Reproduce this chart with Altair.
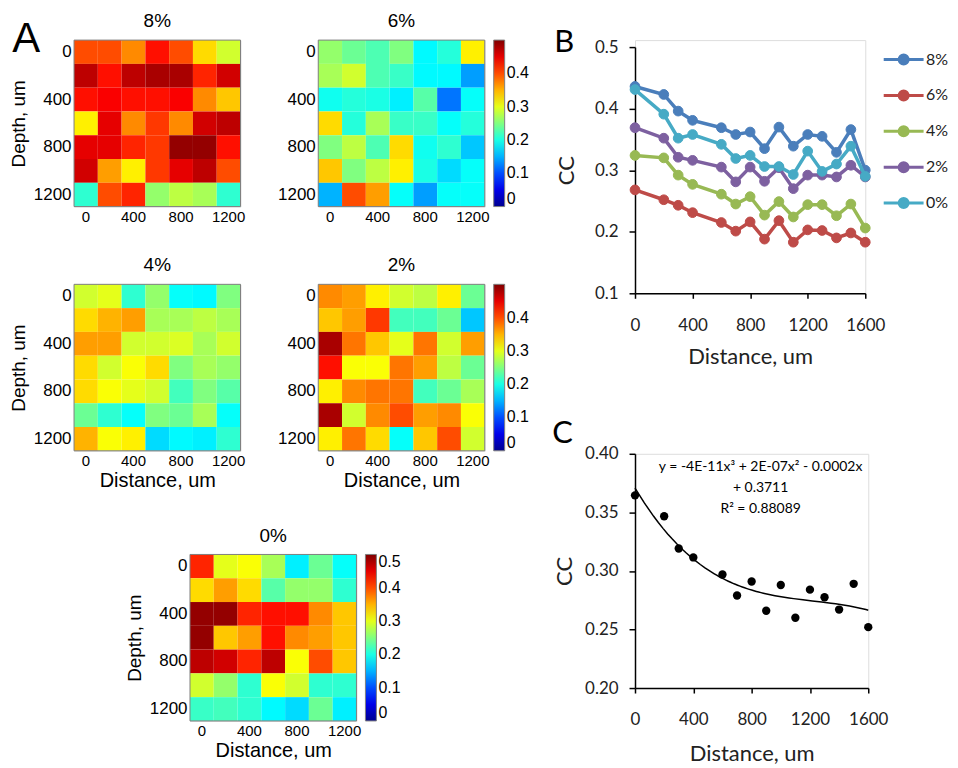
import altair as alt
import pandas as pd

# ---------------- data ----------------
dists = [0, 200, 400, 600, 800, 1000, 1200]
depths = [0, 200, 400, 600, 800, 1000, 1200]

hm_8 = [
    [0.40, 0.40, 0.37, 0.43, 0.40, 0.33, 0.29],
    [0.47, 0.43, 0.47, 0.48, 0.48, 0.42, 0.46],
    [0.43, 0.44, 0.43, 0.43, 0.44, 0.37, 0.34],
    [0.32, 0.45, 0.37, 0.41, 0.37, 0.46, 0.47],
    [0.45, 0.45, 0.42, 0.41, 0.49, 0.49, 0.43],
    [0.46, 0.36, 0.32, 0.41, 0.45, 0.47, 0.40],
    [0.21, 0.40, 0.42, 0.26, 0.28, 0.27, 0.21],
]
hm_6 = [
    [0.26, 0.24, 0.225, 0.25, 0.185, 0.205, 0.32],
    [0.27, 0.29, 0.225, 0.215, 0.185, 0.185, 0.14],
    [0.195, 0.205, 0.20, 0.18, 0.23, 0.12, 0.19],
    [0.33, 0.205, 0.27, 0.215, 0.215, 0.19, 0.205],
    [0.25, 0.28, 0.225, 0.33, 0.195, 0.21, 0.16],
    [0.34, 0.25, 0.28, 0.32, 0.20, 0.17, 0.19],
    [0.15, 0.40, 0.36, 0.19, 0.14, 0.19, 0.19],
]
hm_4 = [
    [0.29, 0.30, 0.21, 0.26, 0.19, 0.185, 0.25],
    [0.33, 0.35, 0.36, 0.27, 0.27, 0.28, 0.27],
    [0.36, 0.36, 0.29, 0.29, 0.295, 0.27, 0.29],
    [0.33, 0.29, 0.31, 0.33, 0.25, 0.27, 0.26],
    [0.33, 0.31, 0.30, 0.29, 0.22, 0.25, 0.23],
    [0.24, 0.21, 0.19, 0.25, 0.24, 0.27, 0.19],
    [0.35, 0.31, 0.32, 0.17, 0.185, 0.18, 0.21],
]
hm_2 = [
    [0.37, 0.36, 0.32, 0.29, 0.28, 0.32, 0.24],
    [0.34, 0.36, 0.41, 0.22, 0.22, 0.24, 0.16],
    [0.48, 0.38, 0.34, 0.30, 0.38, 0.29, 0.36],
    [0.43, 0.31, 0.31, 0.38, 0.36, 0.28, 0.24],
    [0.32, 0.37, 0.38, 0.38, 0.22, 0.24, 0.27],
    [0.48, 0.29, 0.37, 0.40, 0.36, 0.37, 0.31],
    [0.32, 0.38, 0.33, 0.19, 0.34, 0.40, 0.29],
]
hm_0 = [
    [0.42, 0.30, 0.31, 0.27, 0.18, 0.24, 0.19],
    [0.33, 0.36, 0.33, 0.23, 0.26, 0.26, 0.21],
    [0.49, 0.49, 0.42, 0.43, 0.43, 0.37, 0.34],
    [0.49, 0.34, 0.36, 0.43, 0.37, 0.36, 0.34],
    [0.47, 0.46, 0.42, 0.47, 0.31, 0.40, 0.34],
    [0.29, 0.26, 0.21, 0.31, 0.29, 0.21, 0.21],
    [0.215, 0.22, 0.21, 0.185, 0.17, 0.24, 0.18],
]

dist_b = [0, 200, 300, 400, 600, 700, 800, 900, 1000, 1100, 1200, 1300, 1400, 1500, 1600]
series_names = ["8%", "6%", "4%", "2%", "0%"]
cc_8 = [0.436, 0.423, 0.396, 0.381, 0.369, 0.358, 0.362, 0.335, 0.370, 0.339, 0.358, 0.355, 0.329, 0.366, 0.300]
cc_6 = [0.268, 0.252, 0.243, 0.231, 0.215, 0.201, 0.216, 0.188, 0.218, 0.183, 0.203, 0.202, 0.190, 0.198, 0.183]
cc_4 = [0.324, 0.320, 0.292, 0.277, 0.261, 0.245, 0.257, 0.227, 0.249, 0.224, 0.244, 0.244, 0.226, 0.245, 0.206]
cc_2 = [0.369, 0.352, 0.321, 0.316, 0.305, 0.281, 0.305, 0.282, 0.304, 0.270, 0.292, 0.292, 0.289, 0.308, 0.289]
cc_0 = [0.431, 0.391, 0.352, 0.358, 0.342, 0.319, 0.324, 0.306, 0.306, 0.293, 0.331, 0.298, 0.310, 0.339, 0.290]

dist_c = [0, 200, 300, 400, 600, 700, 800, 900, 1000, 1100, 1200, 1300, 1400, 1500, 1600]
cc_mean = [0.3645, 0.3467, 0.3191, 0.3115, 0.297, 0.279, 0.291, 0.266, 0.288, 0.260, 0.284, 0.2775, 0.267, 0.289, 0.252]

fit_lines = ["y = -4E-11x\u00b3 + 2E-07x\u00b2 - 0.0002x", "+ 0.3711", "R\u00b2 = 0.88089"]

# ---------------- styles ----------------
JET_DOMAIN = [0, 0.0625, 0.1875, 0.3125, 0.4375, 0.5]
JET_RANGE = ["#00008f", "#0000ff", "#00ffff", "#ffff00", "#ff0000", "#800000"]
HM_FONT = "Liberation Sans"
XL_FONT = "Lato"
HM = 167
line_colors = ["#4a7ebb", "#be4b48", "#98b954", "#7d60a0", "#46aac5"]
one = pd.DataFrame({"k": [0]})


def heatmap(vals, title, ytitle, xtitle, legend_vals, letter=False, pad_right=False):
    df = pd.DataFrame(
        [{"dist": d, "depth": z, "cc": vals[i][j]}
         for i, z in enumerate(depths) for j, d in enumerate(dists)]
    )
    if legend_vals is not None:
        legend = alt.Legend(
            title=None, orient="right", offset=9, padding=0, type="gradient",
            direction="vertical", gradientLength=HM, gradientThickness=11,
            values=legend_vals, format=".1~f", labelFont=HM_FONT, labelFontSize=16,
            labelOffset=2, labelColor="black", labelBaseline="middle",
            gradientStrokeColor="#808080", gradientStrokeWidth=1,
        )
    else:
        legend = None
    rect = alt.Chart(df).mark_rect().encode(
        x=alt.X("dist:O", scale=alt.Scale(paddingInner=0, paddingOuter=0),
                axis=alt.Axis(values=[0, 400, 800, 1200], labelAngle=0, ticks=False,
                              domain=False, labelPadding=3, labelFont=HM_FONT,
                              labelFontSize=15, labelColor="black",
                              title=xtitle, titleFont=HM_FONT, titleFontSize=20,
                              titleFontWeight="normal", titleColor="black",
                              titlePadding=2)),
        y=alt.Y("depth:O", scale=alt.Scale(paddingInner=0, paddingOuter=0),
                axis=alt.Axis(values=[0, 400, 800, 1200], ticks=False, domain=False,
                              labelPadding=3, labelFont=HM_FONT, labelFontSize=17,
                              labelColor="black",
                              title=ytitle, titleFont=HM_FONT, titleFontSize=19,
                              titleFontWeight="normal", titleColor="black",
                              titlePadding=5)),
        color=alt.Color("cc:Q", scale=alt.Scale(domain=JET_DOMAIN, range=JET_RANGE,
                                                interpolate="rgb"),
                        legend=legend),
    )
    frame = alt.Chart(one).mark_rect(fillOpacity=0, stroke="#808080", strokeWidth=1).encode(
        x=alt.value(0), x2=alt.value(HM), y=alt.value(0), y2=alt.value(HM)
    )
    head = alt.Chart(one).mark_text(text=title, font=HM_FONT, fontSize=19, align="center",
                                    baseline="alphabetic", color="black").encode(
        x=alt.value(HM / 2), y=alt.value(-13))
    layers = [rect, frame, head]
    if letter:
        layers.append(
            alt.Chart(one).mark_text(text="A", font=HM_FONT, fontSize=42, align="left",
                                     baseline="alphabetic", color="black").encode(
                x=alt.value(-62), y=alt.value(12))
        )
    if pad_right:
        layers.append(
            alt.Chart(one).mark_text(text="00000", font=HM_FONT, fontSize=12, opacity=0,
                                     align="left").encode(
                x=alt.value(HM + 24), y=alt.value(HM / 2))
        )
    return alt.layer(*layers).properties(width=HM, height=HM)


h8 = heatmap(hm_8, "8%", "Depth, um", None, None, letter=True)
h6 = heatmap(hm_6, "6%", None, None, [0, 0.1, 0.2, 0.3, 0.4])
h4 = heatmap(hm_4, "4%", "Depth, um", "Distance, um", None)
h2 = heatmap(hm_2, "2%", None, "Distance, um", [0, 0.1, 0.2, 0.3, 0.4])
h0 = heatmap(hm_0, "0%", "Depth, um", "Distance, um", [0, 0.1, 0.2, 0.3, 0.4, 0.5],
             pad_right=True)


def indep(c):
    return c.resolve_scale(color="independent").resolve_legend(color="independent")


row1 = indep(alt.hconcat(h8, h6, spacing=31))
row2 = indep(alt.hconcat(h4, h2, spacing=31))
top_rows = indep(alt.vconcat(row1, row2, spacing=30))
left = indep(alt.vconcat(top_rows, h0, spacing=34, center=True))

# ---------------- panel B ----------------
B_TOP = 7          # plot area starts 7px below the row's top edge
B_H = 247
rows = []
for name, vals in zip(series_names, [cc_8, cc_6, cc_4, cc_2, cc_0]):
    for d, v in zip(dist_b, vals):
        rows.append({"series": name, "dist": d, "cc": v})
dfb = pd.DataFrame(rows)

SYM = "M-1,0L3,0M1.45,0A0.45,0.45,0,1,1,0.55,0A0.45,0.45,0,1,1,1.45,0Z"
legend_b = alt.Legend(
    title=None, orient="none", legendX=248, legendY=B_TOP + 1, padding=0, symbolType=SYM,
    symbolSize=400, symbolStrokeWidth=3, symbolOpacity=1, labelFont=XL_FONT,
    labelFontSize=16, labelOffset=21, rowPadding=13, labelColor="#222",
)


def x_axis_xl(tpad):
    return alt.Axis(values=[0, 400, 800, 1200, 1600], format="d", labelOverlap=False,
                    labelFlush=False, grid=False, tickSize=5, tickColor="black",
                    tickWidth=1.5, domainColor="black", domainWidth=1.5,
                    labelFont=XL_FONT, labelFontSize=17, labelColor="#222",
                    labelPadding=19, title="Distance, um", titleFont=XL_FONT,
                    titleFontSize=22, titleFontWeight="normal", titleColor="#222",
                    titlePadding=tpad)


xb = alt.X("dist:Q", scale=alt.Scale(domain=[0, 1600], nice=False), axis=x_axis_xl(13))
yb = alt.Y("cc:Q", scale=alt.Scale(domain=[0.1, 0.5], nice=False, zero=False,
                                   range=[B_TOP + B_H, B_TOP]),
           axis=alt.Axis(values=[0.1, 0.2, 0.3, 0.4, 0.5], format=".1f", grid=False,
                         labelOverlap=False, labelFlush=False,
                         tickSize=6, tickColor="black", tickWidth=1.5,
                         domainColor="black", domainWidth=1.5, labelFont=XL_FONT,
                         labelFontSize=17, labelColor="#222", labelPadding=11,
                         title="CC", titleFont=XL_FONT, titleFontSize=22,
                         titleFontWeight="normal", titleColor="#222", titlePadding=16))
stroke_enc = alt.Stroke("series:N", scale=alt.Scale(domain=series_names, range=line_colors),
                        legend=legend_b)
fill_enc = alt.Fill("series:N", scale=alt.Scale(domain=series_names, range=line_colors),
                    legend=legend_b)
b_layers = []
for name in series_names:
    sub = alt.Chart(dfb).transform_filter(alt.datum.series == name)
    b_layers.append(sub.mark_line(strokeWidth=3.5).encode(x=xb, y=yb, stroke=stroke_enc))
    b_layers.append(sub.mark_point(filled=True, size=95, strokeWidth=1, opacity=1).encode(
        x=xb, y=yb, fill=fill_enc, stroke=stroke_enc))
b_layers.append(
    alt.Chart(one).mark_text(text="B", font=XL_FONT, fontSize=31, align="left",
                             baseline="alphabetic", color="black").encode(
        x=alt.value(-81), y=alt.value(B_TOP + 5))
)
chart_b = alt.layer(*b_layers).properties(width=231, height=B_TOP + B_H)

# ---------------- panel C ----------------
dfc = pd.DataFrame({"dist": dist_c, "cc": cc_mean})
xc = alt.X("dist:Q", scale=alt.Scale(domain=[0, 1600], nice=False), axis=x_axis_xl(16))
yc = alt.Y("cc:Q", scale=alt.Scale(domain=[0.2, 0.4], nice=False, zero=False),
           axis=alt.Axis(values=[0.2, 0.25, 0.3, 0.35, 0.4], format=".2f", grid=False,
                         labelOverlap=False, labelFlush=False,
                         tickSize=6, tickColor="black", tickWidth=1.5,
                         domainColor="black", domainWidth=1.5, labelFont=XL_FONT,
                         labelFontSize=17, labelColor="#222", labelPadding=11,
                         title="CC", titleFont=XL_FONT, titleFontSize=22,
                         titleFontWeight="normal", titleColor="#222", titlePadding=8))
pts_c = alt.Chart(dfc).mark_circle(size=70, color="black", opacity=1).encode(x=xc, y=yc)
fit_c = alt.Chart(dfc).transform_regression(
    "dist", "cc", method="poly", order=3, extent=[0, 1600]
).mark_line(color="black", strokeWidth=1.5).encode(x=xc, y=yc)
eq_c = alt.Chart(one).mark_text(
    text=fit_lines, font=XL_FONT, fontSize=14, lineHeight=21, align="center",
    baseline="alphabetic", color="black"
).encode(x=alt.value(126), y=alt.value(17))
letter_c = alt.Chart(one).mark_text(text="C", font=XL_FONT, fontSize=31, align="left",
                                    baseline="alphabetic", color="black").encode(
    x=alt.value(-83), y=alt.value(-11))
chart_c = alt.layer(pts_c, fit_c, eq_c, letter_c).properties(width=234, height=235)

right = alt.vconcat(chart_b, chart_c, spacing=49).resolve_scale(
    stroke="independent", fill="independent").resolve_legend(
    stroke="independent", fill="independent")

chart = alt.hconcat(left, right, spacing=21).resolve_scale(
    color="independent", stroke="independent", fill="independent").resolve_legend(
    color="independent", stroke="independent", fill="independent").properties(
    padding={"left": 0, "top": 2, "right": 0, "bottom": 0}
).configure_view(stroke=None).configure(background="white")

chart.save("out.html", embed_options={"renderer": "svg", "actions": False})
